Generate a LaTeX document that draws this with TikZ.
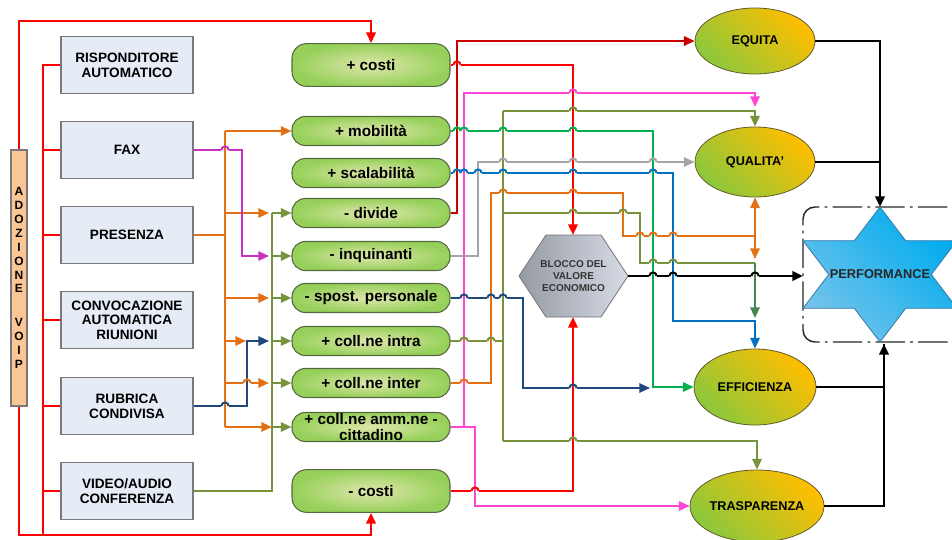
\documentclass[tikz,border=0pt]{standalone}
\usepackage{fontspec}
\setmainfont{Liberation Sans}
\usetikzlibrary{arrows.meta,shapes.geometric,calc}
\definecolor{cRed}{RGB}{255,0,0}
\definecolor{cDRed}{RGB}{200,0,0}
\definecolor{cPink}{RGB}{255,70,210}
\definecolor{cMag}{RGB}{200,50,190}
\definecolor{cOr}{RGB}{228,112,20}
\definecolor{cOl}{RGB}{119,147,60}
\definecolor{cGr}{RGB}{0,176,80}
\definecolor{cBl}{RGB}{0,112,192}
\definecolor{cNv}{RGB}{31,73,125}
\definecolor{cGy}{RGB}{165,165,165}
\definecolor{cDG}{RGB}{70,135,80}
\definecolor{lboxF}{RGB}{230,236,246}
\definecolor{lboxD}{RGB}{120,120,125}
\definecolor{voipF}{RGB}{250,198,148}
\definecolor{gIn}{RGB}{224,230,172}
\definecolor{gOut}{RGB}{150,208,90}
\definecolor{gD}{RGB}{85,105,65}
\definecolor{eTop}{RGB}{255,190,0}
\definecolor{eMid}{RGB}{236,192,20}
\definecolor{eBot}{RGB}{140,200,60}
\definecolor{eD}{RGB}{100,90,40}
\definecolor{sA}{RGB}{0,172,238}
\definecolor{sB}{RGB}{115,195,235}
\definecolor{sD}{RGB}{60,120,170}
\definecolor{hL}{RGB}{150,154,162}
\definecolor{hR}{RGB}{214,219,230}
\begin{document}
\begin{tikzpicture}[x=0.75pt,y=-0.75pt,
  tip/.style={-{Triangle[length=8pt,width=7pt]}},
  ln/.style={line width=1.5pt},
  rl/.style={line width=1.7pt},
  blk/.style={line width=2pt,black},
  lbox/.style={draw=lboxD,fill=lboxF,line width=0.8pt,minimum width=99pt,minimum height=42.5pt,
    font=\bfseries\fontsize{10.2}{11}\selectfont,align=center,inner sep=1pt},
  gbox/.style={draw=gD,line width=0.8pt,inner color=gIn,outer color=gOut,rounded corners=10pt,
    minimum width=118.5pt,minimum height=21.75pt,font=\bfseries\fontsize{11.5}{11.5}\selectfont,
    align=center,inner xsep=1pt,inner ysep=0pt},
  ell/.style={ellipse,draw=eD,line width=0.6pt,inner sep=0pt,font=\bfseries\fontsize{9.5}{11}\selectfont,
    top color=eTop,middle color=eMid,bottom color=eBot,shading angle=-45},
  voipbar/.style={draw=lboxD,fill=voipF,line width=0.8pt,minimum width=12pt,minimum height=192pt,
    inner sep=0pt,font=\bfseries\fontsize{9}{10.4}\selectfont,align=center},
  perfbox/.style={draw=black!85,line width=1.1pt,dash pattern=on 22pt off 4pt on 2pt off 4pt,rounded corners=9pt}
]
\useasboundingbox (0,0) rectangle (952,539);
\clip (0,0) rectangle (952,539);

% ---------- left column ----------
\node[voipbar] (voip) at (19,278) {A\\D\\O\\Z\\I\\O\\N\\E\\[15pt]V\\O\\I\\P};
\node[lbox] (resp)  at (127,65)  {RISPONDITORE\\AUTOMATICO};
\node[lbox] (fax)   at (127,150) {FAX};
\node[lbox] (pres)  at (127,235) {PRESENZA};
\node[lbox] (conv)  at (127,320) {CONVOCAZIONE\\AUTOMATICA\\RIUNIONI};
\node[lbox] (rubr)  at (127,406) {RUBRICA\\CONDIVISA};
\node[lbox] (video) at (127,491) {VIDEO/AUDIO\\CONFERENZA};

% ---------- middle column ----------
\node[gbox,minimum height=32pt,rounded corners=11pt] (pcosti) at (371,65) {+ costi};
\node[gbox] (mob)    at (371,131) {+ mobilità};
\node[gbox] (scal)   at (371,173) {+ scalabilità};
\node[gbox] (divide) at (371,213) {- divide};
\node[gbox] (inq)    at (371,256) {- inquinanti};
\node[gbox] (spost)  at (371,298) {- spost. personale};
\node[gbox] (intra)  at (371,341) {+ coll.ne intra};
\node[gbox] (inter)  at (371,383) {+ coll.ne inter};
\node[gbox] (amm)    at (371,427) {+ coll.ne amm.ne -\\cittadino};
\node[gbox,minimum height=32pt,rounded corners=11pt] (mcosti) at (371,491) {- costi};

% ---------- hexagon ----------
\shade[left color=hL,right color=hR,draw=black!55,line width=0.6pt]
  (519,276) -- (546,235) -- (601,235) -- (628,276) -- (601,317) -- (546,317) -- cycle;
\node[font=\bfseries\fontsize{7.5}{9}\selectfont,align=center,text=black!80] (hex) at (573.5,276) {BLOCCO DEL\\VALORE\\ECONOMICO};
\coordinate (hexT) at (573,235);
\coordinate (hexB) at (573,317);
\coordinate (hexR) at (628,276);

% ---------- ellipses ----------
\node[ell,minimum width=90pt,minimum height=49.5pt] (equita) at (755,41) {EQUITA};
\node[ell,minimum width=90pt,minimum height=52.5pt] (qual) at (755,162) {QUALITA'};
\node[ell,minimum width=91.5pt,minimum height=57pt] (eff) at (755,387) {EFFICIENZA};
\node[ell,minimum width=96pt,minimum height=54pt] (trasp) at (757,506) {TRASPARENZA};

% ---------- performance ----------
\draw[perfbox] (990,207) -- (803,207) -- (803,342) -- (990,342);
\shade[top color=sA,bottom color=sB,shading angle=-45,draw=sD,line width=0.6pt]
  (880,207) -- (854.3,240.7) -- (803,240.7) -- (828.7,274.5) -- (803,308.3) -- (854.3,308.3)
  -- (880,342) -- (905.7,308.3) -- (957,308.3) -- (931.3,274.5) -- (957,240.7) -- (905.7,240.7) -- cycle;
\node[font=\bfseries\fontsize{9.6}{11}\selectfont,text=black!85] (perf) at (880,274) {PERFORMANCE};
\coordinate (starT) at (880,207);
\coordinate (perfB) at (884,344);
\coordinate (perfL) at (803,276);

% ---------- bus coordinates ----------
\coordinate (rbus) at (43,0);
\coordinate (obus) at (225,0);
\coordinate (gbus) at (272,0);
\coordinate (gin)  at (269,0);

% ---------- left connectors ----------
\draw[rl,cRed,tip] (voip.north) -- (19,21) -| (pcosti.north);
\draw[rl,cRed,tip] (voip.south) -- (19,535) -| (mcosti.south);
\draw[rl,cRed] (43,535) -- (rbus |- resp.west) -- (resp.west);
\foreach \b in {fax,pres,conv,rubr,video} \draw[rl,cRed] (rbus |- \b.west) -- (\b.west);

\draw[ln,cOl] (video.east) -| (gbus |- divide.west);
\foreach \b in {divide,inq,spost,intra,inter,amm} \draw[ln,cOl,tip] (gbus |- \b.west) -- (\b.west);

\draw[ln,cOr] (pres.east) -- (obus |- pres.east);
\draw[ln,cOr] (obus |- mob.west) -- (225,427);
\draw[ln,cOr,tip] (obus |- mob.west) -- (mob.west);
\foreach \b in {divide,spost,inter} \draw[ln,cOr,tip] (obus |- \b.west) -- (gin |- \b.west);
\draw[ln,cOr,tip] (obus |- amm.west) -- (gbus |- amm.west);
\draw[ln,cOr,tip] (obus |- intra.west) -- (246,341);

\draw[ln,cMag,tip] (fax.east) -| (242,256) -- (gin |- inq.west);
\draw[ln,cNv,tip] (rubr.east) -| (247,341) -- (gin |- intra.west);

% ---------- right connectors ----------
\draw[ln,cOl] (503,111) -- (503,441);
\draw[ln,cOl] (intra.east) -- (503,341);
\draw[ln,cOl,tip] (503,111) -| (qual.north);
\draw[ln,cOl] (503,213) -| (640,263) -- (755,263);
\draw[ln,cDG,tip] (755,263) -- (755,318);
\draw[ln,cOl,tip] (503,441) -| (trasp.north);

\draw[ln,cPink,tip] (amm.east) -| (464,93) -| (755,107);
\draw[ln,cPink,tip] (amm.east) -| (475,506) -- (trasp.west);
\draw[ln,cGy,tip] (inq.east) -| (478,162) -- (qual.west);
\draw[ln,cOr] (inter.east) -| (491,193) -| (623,236) -- (755,236);
\draw[ln,cOr,tip] (755,236) -- (qual.south);
\draw[ln,cOr,tip] (755,236) -- (755,259);
\draw[ln,cGr,tip] (mob.east) -| (653,387) -- (eff.west);
\draw[ln,cBl,tip] (scal.east) -| (673,321) -| (eff.north);
\draw[ln,cNv,tip] (spost.east) -| (523,388) -- (650,388);

\draw[rl,cRed,tip] (pcosti.east) -| (hexT);
\draw[rl,cDRed,tip] (divide.east) -| (457,41) -- (equita.west);
\draw[rl,cRed,tip] (mcosti.east) -| (hexB);

% ---------- black connectors ----------
\draw[blk,tip] (hexR) -- (perfL);
\draw[blk,tip] (equita.east) -| (starT);
\draw[blk] (qual.east) -- (qual.east -| starT);
\draw[blk,tip] (eff.east) -| (perfB);
\draw[blk] (trasp.east) -| (perfB);

% ---------- line hops (horizontal line jumps over vertical line) ----------
\foreach \hx/\hy/\hc/\vc in {457/65/cRed/cDRed, 573/93/cPink/cRed, 573/111/cOl/cRed,
   457/131/cGr/cDRed, 464/131/cGr/cPink, 503/131/cGr/cOl, 573/131/cGr/cRed,
   503/162/cGy/cOl, 573/162/cGy/cRed, 653/162/cGy/cGr,
   457/173/cBl/cDRed, 464/173/cBl/cPink, 478/173/cBl/cGy, 503/173/cBl/cOl, 573/173/cBl/cRed, 653/173/cBl/cGr,
   503/193/cOr/cOl, 573/193/cOr/cRed, 573/213/cOl/cRed, 623/213/cOl/cOr,
   640/236/cOr/cOl, 653/236/cOr/cGr, 673/236/cOr/cBl, 653/263/cOl/cGr, 673/263/cOl/cBl,
   464/298/cNv/cPink, 491/298/cNv/cOr, 503/298/cNv/cOl, 464/341/cOl/cPink, 491/341/cOl/cOr, 464/383/cOr/cPink,
   573/388/cNv/cRed, 573/441/cOl/cRed, 475/491/cRed/cPink,
   225/150/cMag/cOr, 225/406/cNv/cOr, 247/383/cOr/cNv,
   653/276/black/cGr, 673/276/black/cBl, 755/276/black/cDG}
{
  \fill[white] (\hx-3.6,\hy-1.7) rectangle (\hx+3.6,\hy+1.7);
  \draw[line width=1.5pt,\vc] (\hx,\hy-5) -- (\hx,\hy+5);
  \draw[line width=1.5pt,\hc] (\hx-3.6,\hy) arc[start angle=180,end angle=360,radius=3.6];
}
\end{tikzpicture}
\end{document}
